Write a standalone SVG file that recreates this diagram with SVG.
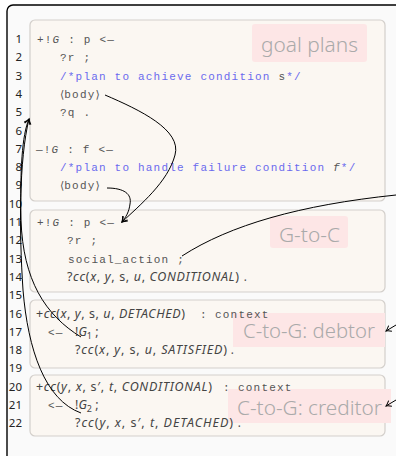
<svg xmlns="http://www.w3.org/2000/svg" width="396" height="456" viewBox="0 0 396 456">
<style>
.num{font-family:"Noto Sans","DejaVu Sans",sans-serif;font-size:11.5px;fill:#222;text-anchor:end}
.code{font-family:"Liberation Mono","DejaVu Sans Mono",monospace;font-size:11px;letter-spacing:1.2px;fill:#555}
.ang{font-family:"DejaVu Sans",sans-serif;letter-spacing:0}
.cm{fill:#6a6aee}
.math{font-family:"Noto Sans","DejaVu Sans",sans-serif;font-size:12.5px;fill:#444}
.it{font-style:italic}
.box{fill:#fbf7f2;stroke:#d3cfcb;stroke-width:1.2}
.lblbg{fill:#fde6e6}
.lbl{font-family:"Noto Sans","Open Sans",sans-serif;font-size:20px;fill:#aaa;font-weight:300}
.con{fill:none;stroke:#000;stroke-width:1}
</style>
<defs>
<marker id="arr" viewBox="-6 -4 8 8" refX="0" refY="0" markerWidth="8" markerHeight="8" markerUnits="userSpaceOnUse" orient="auto">
<path d="M -5 -3.2 Q -2 -0.8 0 0 Q -2 0.8 -5 3.2" fill="none" stroke="#000" stroke-width="1"/>
</marker>
</defs>
<rect x="0" y="0" width="396" height="456" fill="#fff"/>
<rect x="7" y="5" width="420" height="480" rx="6" fill="#fafafa" stroke="#000" stroke-width="1.4"/>

<g id="lines">
<text class="num" x="22" y="43">1</text>
<text class="num" x="22" y="61.3">2</text>
<text class="num" x="22" y="79.6">3</text>
<text class="num" x="22" y="97.9">4</text>
<text class="num" x="22" y="116.2">5</text>
<text class="num" x="22" y="134.5">6</text>
<text class="num" x="22" y="152.8">7</text>
<text class="num" x="22" y="171.1">8</text>
<text class="num" x="22" y="189.4">9</text>
<text class="num" x="22" y="207.7">10</text>
<text class="num" x="22" y="226">11</text>
<text class="num" x="22" y="244.3">12</text>
<text class="num" x="22" y="262.6">13</text>
<text class="num" x="22" y="280.9">14</text>
<text class="num" x="22" y="299.2">15</text>
<text class="num" x="22" y="317.5">16</text>
<text class="num" x="22" y="335.8">17</text>
<text class="num" x="22" y="354.1">18</text>
<text class="num" x="22" y="372.4">19</text>
<text class="num" x="22" y="390.7">20</text>
<text class="num" x="22" y="409">21</text>
<text class="num" x="22" y="427.3">22</text>
</g>

<g id="goal-plans">
<rect class="box" x="30" y="20" width="355" height="181" rx="5"/>
<rect class="lblbg" x="252" y="24" width="115" height="38" rx="3"/>
<text class="lbl" x="261" y="52" textLength="97" lengthAdjust="spacingAndGlyphs">goal plans</text>
<text class="code" x="37" y="43">+!<tspan class="it">G</tspan> : p &lt;—</text>
<text class="code" x="60" y="61.3">?r ;</text>
<text class="code" x="60" y="79.6"><tspan class="cm">/*plan to achieve condition </tspan>s<tspan class="cm">*/</tspan></text>
<text class="code" x="60" y="97.9"><tspan class="ang">⟨</tspan>body<tspan class="ang">⟩</tspan></text>
<text class="code" x="60" y="116.2">?q .</text>
<text class="code" x="36" y="152.8">—!<tspan class="it">G</tspan> : f &lt;—</text>
<text class="code" x="60" y="171.1"><tspan class="cm">/*plan to handle failure condition </tspan><tspan class="it">f</tspan><tspan class="cm">*/</tspan></text>
<text class="code" x="60" y="189.4"><tspan class="ang">⟨</tspan>body<tspan class="ang">⟩</tspan></text>
</g>

<g id="g-to-c">
<rect class="box" x="30" y="210" width="355" height="82" rx="5"/>
<rect class="lblbg" x="270" y="216" width="78" height="32" rx="3"/>
<text class="lbl" x="279" y="242" textLength="61" lengthAdjust="spacingAndGlyphs">G-to-C</text>
<text class="code" x="37" y="226">+!<tspan class="it">G</tspan> : p &lt;—</text>
<text class="code" x="67" y="244.3">?r ;</text>
<text class="code" x="68" y="262.6">social_action ;</text>
<text class="math" x="67" y="280.9" textLength="172" lengthAdjust="spacing">?<tspan class="it">cc</tspan>(<tspan class="it">x</tspan>, <tspan class="it">y</tspan>, s, <tspan class="it">u</tspan>, <tspan class="it">CONDITIONAL</tspan>)</text>
<text class="code" x="242" y="280.9">.</text>
</g>

<g id="c-to-g-debtor">
<rect class="box" x="30" y="300" width="355" height="68" rx="5"/>
<rect class="lblbg" x="233" y="313" width="152" height="34"/>
<text class="math" x="36" y="317.5" textLength="149" lengthAdjust="spacing">+<tspan class="it">cc</tspan>(<tspan class="it">x</tspan>, <tspan class="it">y</tspan>, s, <tspan class="it">u</tspan>, <tspan class="it">DETACHED</tspan>)</text>
<text class="code" x="200" y="317.5">:</text>
<text class="code" x="215" y="317.5">context</text>
<text class="code" x="48" y="335.8">&lt;—</text>
<text class="math" x="75" y="335.8">!<tspan class="it">G</tspan><tspan font-size="9" dy="3">1</tspan><tspan dy="-3"> ;</tspan></text>
<text class="math" x="75" y="354.1" textLength="152" lengthAdjust="spacing">?<tspan class="it">cc</tspan>(<tspan class="it">x</tspan>, <tspan class="it">y</tspan>, s, <tspan class="it">u</tspan>, <tspan class="it">SATISFIED</tspan>)</text>
<text class="code" x="229" y="354.1">.</text>
<text class="lbl" x="243" y="338" textLength="132" lengthAdjust="spacingAndGlyphs">C-to-G: debtor</text>
</g>

<g id="c-to-g-creditor">
<rect class="box" x="30" y="375" width="355" height="61" rx="5"/>
<rect class="lblbg" x="228" y="389" width="163" height="34"/>
<text class="math" x="36" y="390.7" textLength="176" lengthAdjust="spacing">+<tspan class="it">cc</tspan>(<tspan class="it">y</tspan>, <tspan class="it">x</tspan>, s′, <tspan class="it">t</tspan>, <tspan class="it">CONDITIONAL</tspan>)</text>
<text class="code" x="223" y="390.7">:</text>
<text class="code" x="238" y="390.7">context</text>
<text class="code" x="48" y="409">&lt;—</text>
<text class="math" x="75" y="409">!<tspan class="it">G</tspan><tspan font-size="9" dy="3">2</tspan><tspan dy="-3"> ;</tspan></text>
<text class="math" x="75" y="427.3" textLength="158" lengthAdjust="spacing">?<tspan class="it">cc</tspan>(<tspan class="it">y</tspan>, <tspan class="it">x</tspan>, s′, <tspan class="it">t</tspan>, <tspan class="it">DETACHED</tspan>)</text>
<text class="code" x="236" y="427.3">.</text>
<text class="lbl" x="237" y="415" textLength="145" lengthAdjust="spacingAndGlyphs">C-to-G: creditor</text>
</g>

<g id="connectors">
<path class="con" marker-end="url(#arr)" d="M 105 95 C 140 110, 182 130, 175 155 C 168 182, 140 205, 122 222"/>
<path class="con" marker-end="url(#arr)" d="M 107 188 C 124 188, 132 194, 130 204 C 129 212, 126 217, 122 222"/>
<path class="con" d="M 182 256 C 230 225, 300 205, 396 195"/>
<path class="con" marker-end="url(#arr)" d="M 396 325 L 386 331"/>
<path class="con" marker-end="url(#arr)" d="M 396 400 L 386 406"/>
<path class="con" marker-end="url(#arr)" d="M 81 337 C 45 315, 23 280, 21 220 C 20 170, 22 135, 29 119"/>
<path class="con" marker-end="url(#arr)" d="M 81 413 C 45 400, 28 350, 23 290 C 19 230, 19 160, 29 119"/>
</g>
</svg>
